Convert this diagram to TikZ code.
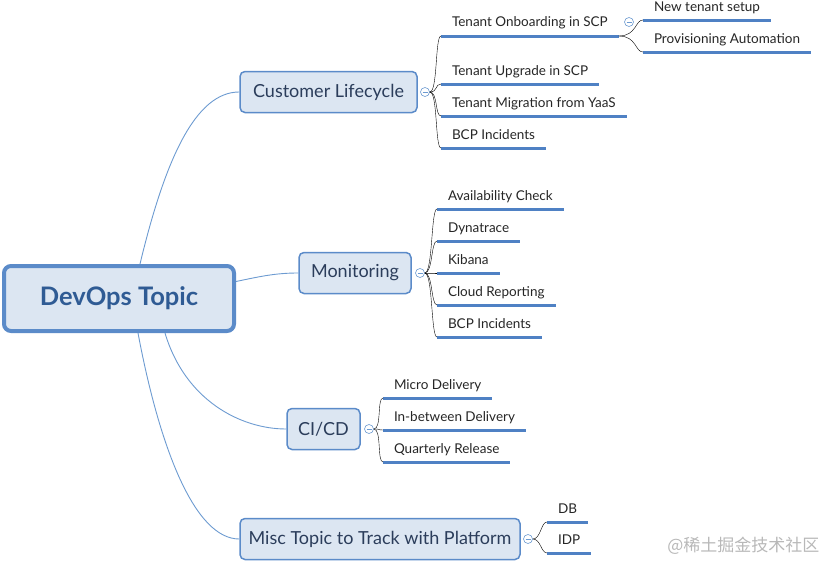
\documentclass[tikz,border=0pt]{standalone}
\usepackage{fontspec}
\setmainfont{Lato}
\newfontfamily\markfont{Noto Sans CJK SC}
\usepackage{tikz}
\usetikzlibrary{positioning}

\definecolor{boxfill}{HTML}{DCE6F2}
\definecolor{boxline}{HTML}{5B8BC9}
\definecolor{linkblue}{HTML}{6D9BD1}
\definecolor{ulblue}{HTML}{4F81C4}
\definecolor{rootink}{HTML}{2F5B94}
\definecolor{topicink}{HTML}{2B3D5B}

\tikzset{
	link/.style={draw=linkblue, line width=0.9pt},
	branch/.style={link, to path={.. controls +(8,0) and +(-6,0) .. (\tikztotarget)}},
	longbranch/.style={link, to path={.. controls +(18,0) and +(-8,0) .. (\tikztotarget)}},
	rootbox/.style={draw=boxline, line width=4pt, fill=boxfill, rounded corners=7pt, minimum width=230pt, minimum height=65pt, text=rootink, font=\bfseries\fontsize{25.5}{30}\selectfont},
	topic/.style={draw=boxline, line width=1.5pt, fill=boxfill, rounded corners=5pt, minimum height=41pt, inner xsep=4pt, text=topicink, font=\fontsize{18}{21}\selectfont},
	leaf/.style={anchor=south west, outer sep=0pt, inner xsep=11pt, inner ysep=6pt, text depth=3pt, text height=10pt, text=black!85, font=\fontsize{13.5}{16}\selectfont,
		append after command={(\tikzlastnode.south west) edge[draw=ulblue, line width=3pt] (\tikzlastnode.south east)}},
	fold/.style={circle, draw=linkblue, fill=white, line width=0.6pt, inner sep=0pt, minimum size=9pt,
		path picture={\draw[linkblue, line width=0.6pt] ([xshift=-2.5pt]path picture bounding box.center) -- ([xshift=2.5pt]path picture bounding box.center);}}
}

\begin{document}
\begin{tikzpicture}[x=1pt, y=-1pt]
	\useasboundingbox (0,0) rectangle (828,562);

	\node[rootbox] (root) at (119,298.5) {DevOps Topic};

	\node[topic, minimum width=177pt] (cust) at (328.5,92) {Customer Lifecycle};
	\node[topic, minimum width=112pt] (mon) at (355,273) {Monitoring};
	\node[topic, minimum width=73pt] (cicd) at (323.5,429) {CI/CD};
	\node[topic, minimum width=280pt] (misc) at (380,539) {Misc Topic to Track with Platform};

	\draw[link] ([xshift=21pt]root.north) .. controls +(25,-104) and +(-44,0) .. (cust.west);
	\draw[link] ([yshift=17pt]root.east) .. controls +(24,-5) and +(-23,0) .. (mon.west);
	\draw[link] ([xshift=46pt]root.south) .. controls +(20,67) and +(-46,0) .. (cicd.west);
	\draw[link] ([xshift=19pt]root.south) .. controls +(22,117) and +(-44,0) .. (misc.west);

	\node[fold] (fcust) at (425,92) {};
	\node[leaf] (onb) at (441,36) {Tenant Onboarding in SCP};
	\node[leaf] (upg) at (441,84) {Tenant Upgrade in SCP};
	\node[leaf] (mig) at (441,116) {Tenant Migration from YaaS};
	\node[leaf] (bcpa) at (441,148) {BCP Incidents};
	\foreach \t in {onb,upg,mig,bcpa}
		\draw (fcust.east) to[branch] (\t.south west);

	\node[fold] (fonb) at (629,22) {};
	\node[leaf] (newt) at (643,20) {New tenant setup};
	\node[leaf] (prov) at (643,52) {Provisioning Automation};
	\foreach \t in {newt,prov}
		\draw (onb.south east) to[longbranch] (\t.south west);

	\node[fold] (fmon) at (420,273) {};
	\node[leaf] (avail) at (437,209) {Availability Check};
	\node[leaf] (dyna) at (437,241) {Dynatrace};
	\node[leaf] (kib) at (437,273) {Kibana};
	\node[leaf] (cloud) at (437,305) {Cloud Reporting};
	\node[leaf] (bcpb) at (437,337) {BCP Incidents};
	\foreach \t in {avail,dyna,kib,cloud,bcpb}
		\draw (fmon.east) to[branch] (\t.south west);

	\node[fold] (fcicd) at (369,429) {};
	\node[leaf] (micro) at (383,398) {Micro Delivery};
	\node[leaf] (inbet) at (383,430) {In-between Delivery};
	\node[leaf] (quart) at (383,462) {Quarterly Release};
	\foreach \t in {micro,inbet,quart}
		\draw (fcicd.east) to[branch] (\t.south west);

	\node[fold] (fmisc) at (528,539) {};
	\node[leaf] (db) at (547,522) {DB};
	\node[leaf] (idp) at (547,553) {IDP};
	\foreach \t in {db,idp}
		\draw (fmisc.east) to[branch] (\t.south west);

	\node[text=black!28, font=\markfont\fontsize{17}{20}\selectfont, anchor=east] (mark) at (823,546) {@稀土掘金技术社区};
\end{tikzpicture}
\end{document}
